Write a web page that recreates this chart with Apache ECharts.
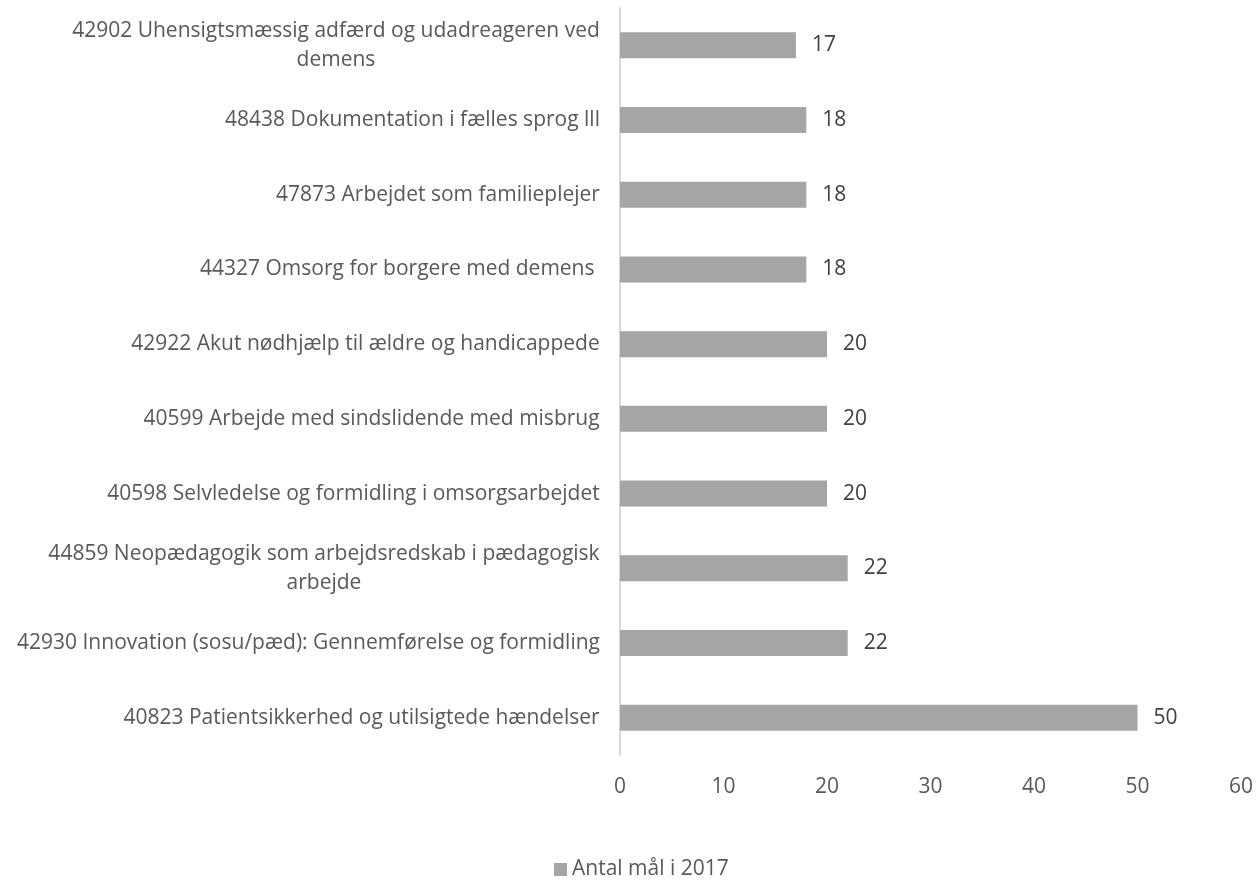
<!DOCTYPE html>
<html>
<head>
<meta charset="utf-8">
<script src="https://cdn.jsdelivr.net/npm/echarts@6/dist/echarts.min.js"></script>
<style>
    html, body { margin: 0; padding: 0; background: #fff; }
    #chart { width: 1256px; height: 880px; }
</style>
</head>
<body>
<div id="chart"></div>
<script>
    // kategorier nedefra og op (som i Excel)
    const categories = [
        '40823 Patientsikkerhed og utilsigtede hændelser',
        '42930 Innovation (sosu/pæd): Gennemførelse og formidling',
        '44859 Neopædagogik som arbejdsredskab i pædagogisk\narbejde',
        '40598 Selvledelse og formidling i omsorgsarbejdet',
        '40599 Arbejde med sindslidende med misbrug',
        '42922 Akut nødhjælp til ældre og handicappede',
        '44327 Omsorg for borgere med demens ',
        '47873 Arbejdet som familieplejer',
        '48438 Dokumentation i fælles sprog lll',
        '42902 Uhensigtsmæssig adfærd og udadreageren ved\ndemens'
    ]
    const antal2017 = [50, 22, 22, 20, 20, 20, 18, 18, 18, 17]
    const seriesName = 'Antal mål i 2017'

    const font = "'Open Sans', 'DejaVu Sans', sans-serif"
    const textColor = '#595959'
    const labelSize = 21

    // linjerne i et ombrudt label skal centreres i forhold til hinanden
    const ctx = document.createElement('canvas').getContext('2d')
    ctx.font = labelSize + 'px ' + font
    const rich = {}
    categories.forEach(function (c, i) {
        const w = Math.max.apply(null, c.split('\n').map(function (l) { return ctx.measureText(l).width }))
        rich['c' + i] = {fontSize: labelSize, color: textColor, fontFamily: font, width: Math.ceil(w), align: 'center', lineHeight: 29}
    })

    const chart = echarts.init(document.getElementById('chart'))
    chart.setOption({
        animation: false,
        textStyle: {fontFamily: font},
        grid: {left: 620, right: 14, top: 8, bottom: 125, containLabel: false},
        legend: {
            data: [seriesName],
            bottom: -5,
            left: 549,
            itemWidth: 13,
            itemHeight: 13,
            itemGap: 10,
            icon: 'rect',
            textStyle: {fontSize: labelSize, color: textColor, fontFamily: font}
        },
        xAxis: {
            type: 'value',
            min: 0,
            max: 60,
            interval: 10,
            axisLine: {show: false},
            axisTick: {show: false},
            splitLine: {show: false},
            axisLabel: {fontSize: labelSize, color: textColor, margin: 22, fontFamily: font}
        },
        yAxis: {
            type: 'category',
            data: categories,
            axisLine: {show: true, lineStyle: {color: '#d9d9d9', width: 2}},
            axisTick: {show: false},
            axisLabel: {
                margin: 20,
                formatter: function (v, i) {
                    return v.split('\n').map(function (l) { return '{c' + i + '|' + l + '}' }).join('\n')
                },
                rich: rich
            }
        },
        series: [{
            name: seriesName,
            type: 'bar',
            data: antal2017,
            barWidth: 26,
            itemStyle: {color: '#a5a5a5'},
            label: {
                show: true,
                position: 'right',
                distance: 16,
                fontSize: labelSize,
                color: '#404040',
                fontFamily: font
            }
        }]
    })
</script>
</body>
</html>
